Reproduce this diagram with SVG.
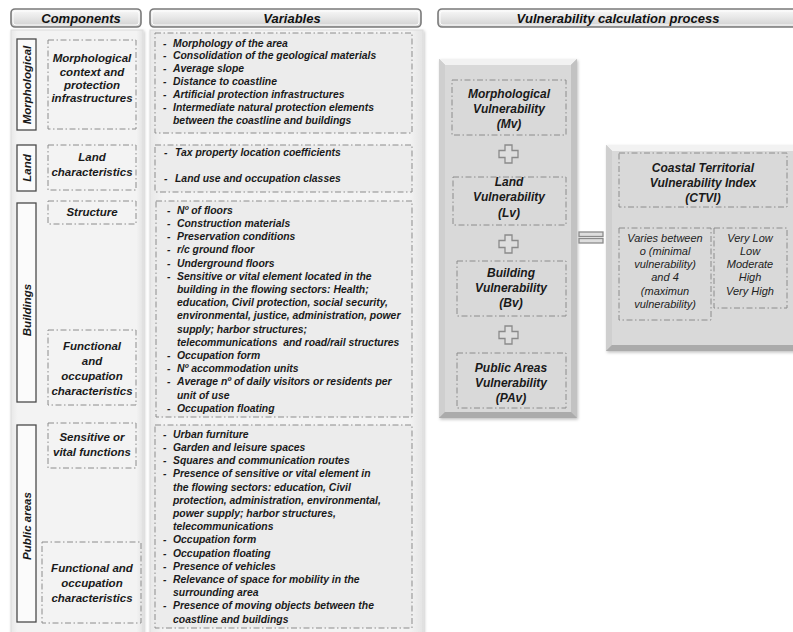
<svg xmlns="http://www.w3.org/2000/svg" width="793" height="632" viewBox="0 0 793 632">
<defs>
  <linearGradient id="hdr" x1="0" y1="0" x2="0" y2="1">
    <stop offset="0" stop-color="#fafafa"/>
    <stop offset="0.5" stop-color="#e6e6e6"/>
    <stop offset="1" stop-color="#cfcfcf"/>
  </linearGradient>
  <linearGradient id="col" x1="0" y1="0" x2="1" y2="0">
    <stop offset="0" stop-color="#e8e8e8"/>
    <stop offset="0.05" stop-color="#f3f3f3"/>
    <stop offset="0.95" stop-color="#f3f3f3"/>
    <stop offset="1" stop-color="#e4e4e4"/>
  </linearGradient>
  <filter id="sh" x="-10%" y="-10%" width="120%" height="120%">
    <feDropShadow dx="1" dy="1.5" stdDeviation="1.5" flood-color="#000" flood-opacity="0.25"/>
  </filter>
</defs>
<style>
  .hdr{fill:url(#hdr);stroke:#7a7a7a;stroke-width:1.6}
  .hdri{fill:none;stroke:#fdfdfd;stroke-width:1}
  .ht{font-family:"Liberation Sans",Arial,sans-serif;font-weight:bold;font-style:italic;font-size:13px;fill:#111;text-anchor:middle}
  .col{fill:url(#col);stroke:#dcdcdc;stroke-width:1}
  .dbox{fill:none;stroke:#8c8c8c;stroke-width:1;stroke-dasharray:6 2.5 1.5 2.5}
  .vbox{fill:#ececec;stroke:#8c8c8c;stroke-width:1;stroke-dasharray:6 2.5 1.5 2.5}
  .lbl{fill:#fbfbfb;stroke:#4a4a4a;stroke-width:1.3}
  .ct{font-family:"Liberation Sans",Arial,sans-serif;font-weight:bold;font-style:italic;font-size:11.5px;fill:#1a1a1a;text-anchor:middle}
  .vt{font-family:"Liberation Sans",Arial,sans-serif;font-weight:bold;font-style:italic;font-size:10.4px;fill:#1a1a1a}
  .vut{font-family:"Liberation Sans",Arial,sans-serif;font-weight:bold;font-style:italic;font-size:12px;fill:#1a1a1a;text-anchor:middle}
  .rt{font-family:"Liberation Sans",Arial,sans-serif;font-style:italic;font-size:11px;fill:#222;text-anchor:middle}
  .face{fill:#d9d9d9}
  .bt{fill:#f2f2f2}
  .bl{fill:#cfcfcf}
  .br{fill:#c2c2c2}
  .bb{fill:#ababab}
  .op{fill:#dedede;stroke:#8a8a8a;stroke-width:1.3}
</style>
<rect width="793" height="632" fill="#ffffff"/>

<!-- Headers -->
<g id="header-components">
  <rect class="hdr" x="11" y="9" width="130" height="18" rx="4"/>
  <rect class="hdri" x="13" y="11" width="126" height="14" rx="3"/>
  <text class="ht" x="81" y="23">Components</text>
</g>
<g id="header-variables">
  <rect class="hdr" x="150" y="9" width="271" height="18" rx="4"/>
  <rect class="hdri" x="152" y="11" width="267" height="14" rx="3"/>
  <text class="ht" x="292" y="23">Variables</text>
</g>
<g id="header-process">
  <rect class="hdr" x="438" y="9" width="362" height="18" rx="4"/>
  <rect class="hdri" x="440" y="11" width="358" height="14" rx="3"/>
  <text class="ht" x="618" y="23">Vulnerability calculation process</text>
</g>

<!-- Column panels -->
<g id="panel-components">
  <rect class="col" x="11" y="30" width="132" height="612" filter="url(#sh)"/>
</g>
<g id="panel-variables">
  <rect class="col" x="150" y="30" width="273" height="612" filter="url(#sh)"/>
</g>

<!-- Group labels (vertical) -->
<g id="group-morphological">
  <rect class="lbl" x="17" y="39" width="19" height="91"/>
  <text class="ct" transform="translate(31,85) rotate(-90)">Morphological</text>
</g>
<g id="group-land">
  <rect class="lbl" x="17" y="145" width="19" height="46"/>
  <text class="ct" transform="translate(31,168) rotate(-90)">Land</text>
</g>
<g id="group-buildings">
  <rect class="lbl" x="17" y="203" width="19" height="199"/>
  <text class="ct" transform="translate(31,310) rotate(-90)">Buildings</text>
</g>
<g id="group-public-areas">
  <rect class="lbl" x="17" y="425" width="19" height="197"/>
  <text class="ct" transform="translate(31,526) rotate(-90)">Public areas</text>
</g>

<!-- Components -->
<g id="comp-morphological">
  <rect class="dbox" x="48" y="40" width="88" height="89"/>
  <text class="ct" x="92" y="62">Morphological</text>
  <text class="ct" x="92" y="76">context and</text>
  <text class="ct" x="92" y="89">protection</text>
  <text class="ct" x="92" y="102">infrastructures</text>
</g>
<g id="comp-land">
  <rect class="dbox" x="48" y="145" width="88" height="45"/>
  <text class="ct" x="92" y="161">Land</text>
  <text class="ct" x="92" y="176">characteristics</text>
</g>
<g id="comp-structure">
  <rect class="dbox" x="48" y="201" width="88" height="23"/>
  <text class="ct" x="92" y="216">Structure</text>
</g>
<g id="comp-buildings-functional">
  <rect class="dbox" x="48" y="330" width="88" height="75"/>
  <text class="ct" x="92" y="350">Functional</text>
  <text class="ct" x="92" y="365">and</text>
  <text class="ct" x="92" y="380">occupation</text>
  <text class="ct" x="92" y="395">characteristics</text>
</g>
<g id="comp-sensitive">
  <rect class="dbox" x="48" y="423" width="88" height="45"/>
  <text class="ct" x="92" y="441">Sensitive or</text>
  <text class="ct" x="92" y="456">vital functions</text>
</g>
<g id="comp-public-functional">
  <rect class="dbox" x="42" y="542" width="99" height="81"/>
  <text class="ct" x="92" y="572">Functional and</text>
  <text class="ct" x="92" y="587">occupation</text>
  <text class="ct" x="92" y="602">characteristics</text>
</g>

<!-- Variables -->
<g id="vars-morphological">
  <rect class="vbox" x="155" y="33" width="257" height="100"/>
  <g class="vt">
    <text x="163" y="46.5">-</text><text x="173" y="46.5">Morphology of the area</text>
    <text x="163" y="59.4">-</text><text x="173" y="59.4">Consolidation of the geological materials</text>
    <text x="163" y="72.3">-</text><text x="173" y="72.3">Average slope</text>
    <text x="163" y="85.2">-</text><text x="173" y="85.2">Distance to coastline</text>
    <text x="163" y="98.1">-</text><text x="173" y="98.1">Artificial protection infrastructures</text>
    <text x="163" y="111">-</text><text x="173" y="111">Intermediate natural protection elements</text>
    <text x="173" y="123.9">between the coastline and buildings</text>
  </g>
</g>
<g id="vars-land">
  <rect class="vbox" x="155" y="145" width="257" height="47"/>
  <g class="vt">
    <text x="164" y="155.7">-</text><text x="175" y="155.7">Tax property location coefficients</text>
    <text x="164" y="181.7">-</text><text x="175" y="181.7">Land use and occupation classes</text>
  </g>
</g>
<g id="vars-buildings">
  <rect class="vbox" x="156" y="201" width="256" height="216"/>
  <g class="vt">
    <text x="167" y="213.7">-</text><text x="177" y="213.7">Nº of floors</text>
    <text x="167" y="226.9">-</text><text x="177" y="226.9">Construction materials</text>
    <text x="167" y="240.1">-</text><text x="177" y="240.1">Preservation conditions</text>
    <text x="167" y="253.3">-</text><text x="177" y="253.3">r/c ground floor</text>
    <text x="167" y="266.5">-</text><text x="177" y="266.5">Underground floors</text>
    <text x="167" y="279.7">-</text><text x="177" y="279.7">Sensitive or vital element located in the</text>
    <text x="177" y="292.9">building in the flowing sectors: Health;</text>
    <text x="177" y="306.1">education, Civil protection, social security,</text>
    <text x="177" y="319.3">environmental, justice, administration, power</text>
    <text x="177" y="332.5">supply; harbor structures;</text>
    <text x="177" y="345.7" xml:space="preserve">telecommunications  and road/rail structures</text>
    <text x="167" y="358.9">-</text><text x="177" y="358.9">Occupation form</text>
    <text x="167" y="372.1">-</text><text x="177" y="372.1">Nº accommodation units</text>
    <text x="167" y="385.3">-</text><text x="177" y="385.3">Average nº of daily visitors or residents per</text>
    <text x="177" y="398.5">unit of use</text>
    <text x="167" y="411.7">-</text><text x="177" y="411.7">Occupation floating</text>
  </g>
</g>
<g id="vars-public-areas">
  <rect class="vbox" x="155" y="425" width="257" height="203"/>
  <g class="vt">
    <text x="163" y="437.7">-</text><text x="173" y="437.7">Urban furniture</text>
    <text x="163" y="450.9">-</text><text x="173" y="450.9">Garden and leisure spaces</text>
    <text x="163" y="464.1">-</text><text x="173" y="464.1">Squares and communication routes</text>
    <text x="163" y="477.3">-</text><text x="173" y="477.3">Presence of sensitive or vital element in</text>
    <text x="173" y="490.5">the flowing sectors: education, Civil</text>
    <text x="173" y="503.7">protection, administration, environmental,</text>
    <text x="173" y="516.9">power supply; harbor structures,</text>
    <text x="173" y="530.1">telecommunications</text>
    <text x="163" y="543.3">-</text><text x="173" y="543.3">Occupation form</text>
    <text x="163" y="556.5">-</text><text x="173" y="556.5">Occupation floating</text>
    <text x="163" y="569.7">-</text><text x="173" y="569.7">Presence of vehicles</text>
    <text x="163" y="582.9">-</text><text x="173" y="582.9">Relevance of space for mobility in the</text>
    <text x="173" y="596.1">surrounding area</text>
    <text x="163" y="609.3">-</text><text x="173" y="609.3">Presence of moving objects between the</text>
    <text x="173" y="622.5">coastline and buildings</text>
  </g>
</g>

<!-- Vulnerability sum panel -->
<g id="panel-sum" filter="url(#sh)">
  <rect x="439" y="59" width="138" height="359" fill="#bdbdbd"/>
  <polygon class="bt" points="439,59 577,59 571,65 445,65"/>
  <polygon class="bl" points="439,59 445,65 445,412 439,418"/>
  <polygon class="br" points="577,59 577,418 571,412 571,65"/>
  <polygon class="bb" points="439,418 445,412 571,412 577,418"/>
  <rect class="face" x="445" y="65" width="126" height="347"/>
</g>
<g id="node-mv">
  <rect class="dbox" x="452" y="80" width="114" height="55"/>
  <text class="vut" x="509" y="98.2">Morphological</text>
  <text class="vut" x="509" y="113.2">Vulnerability</text>
  <text class="vut" x="509" y="128.2">(Mv)</text>
</g>
<g id="node-lv">
  <rect class="dbox" x="453" y="177" width="113" height="48"/>
  <text class="vut" x="509" y="186.2">Land</text>
  <text class="vut" x="509" y="201.2">Vulnerability</text>
  <text class="vut" x="509" y="216.7">(Lv)</text>
</g>
<g id="node-bv">
  <rect class="dbox" x="457" y="261" width="109" height="55"/>
  <text class="vut" x="511" y="277.2">Building</text>
  <text class="vut" x="511" y="292.2">Vulnerability</text>
  <text class="vut" x="511" y="307.2">(Bv)</text>
</g>
<g id="node-pav">
  <rect class="dbox" x="457" y="353" width="109" height="55"/>
  <text class="vut" x="511" y="372.2">Public Areas</text>
  <text class="vut" x="511" y="387.2">Vulnerability</text>
  <text class="vut" x="511" y="402.2">(PAv)</text>
</g>

<!-- CTVI panel -->
<g id="panel-ctvi" filter="url(#sh)">
  <rect x="606" y="145" width="200" height="206" fill="#bdbdbd"/>
  <polygon class="bt" points="606,145 806,145 806,151 612,151"/>
  <polygon class="bl" points="606,145 612,151 612,345 606,351"/>
  <polygon class="bb" points="606,351 612,345 806,345 806,351"/>
  <rect class="face" x="612" y="151" width="194" height="194"/>
</g>
<g id="node-ctvi">
  <rect class="dbox" x="619" y="153" width="168" height="54"/>
  <text class="vut" x="703" y="172.2">Coastal Territorial</text>
  <text class="vut" x="703" y="187.2">Vulnerability Index</text>
  <text class="vut" x="703" y="202.2">(CTVI)</text>
</g>
<g id="node-range">
  <rect class="dbox" x="619" y="228" width="92" height="92"/>
  <text class="rt" x="665" y="241.8">Varies between</text>
  <text class="rt" x="665" y="255">o (minimal</text>
  <text class="rt" x="665" y="268.2">vulnerability)</text>
  <text class="rt" x="665" y="281.4">and 4</text>
  <text class="rt" x="665" y="294.6">(maximun</text>
  <text class="rt" x="665" y="307.8">vulnerability)</text>
</g>
<g id="node-classes">
  <rect class="dbox" x="714" y="228" width="73" height="80"/>
  <text class="rt" x="750" y="241.8">Very Low</text>
  <text class="rt" x="750" y="255">Low</text>
  <text class="rt" x="750" y="268.2">Moderate</text>
  <text class="rt" x="750" y="281.4">High</text>
  <text class="rt" x="750" y="294.6">Very High</text>
</g>

<!-- Connectors (operators) -->
<g id="connectors">
  <path class="op" d="M505,145 h7 v5.5 h6 v7 h-6 v5.5 h-7 v-5.5 h-6 v-7 h6 z"/>
  <path class="op" d="M505,235 h7 v5.5 h6 v7 h-6 v5.5 h-7 v-5.5 h-6 v-7 h6 z"/>
  <path class="op" d="M505,326 h7 v5.5 h6 v7 h-6 v5.5 h-7 v-5.5 h-6 v-7 h6 z"/>
  <rect class="op" x="579" y="232" width="24" height="4.5"/>
  <rect class="op" x="579" y="238.5" width="24" height="4.5"/>
</g>
</svg>
